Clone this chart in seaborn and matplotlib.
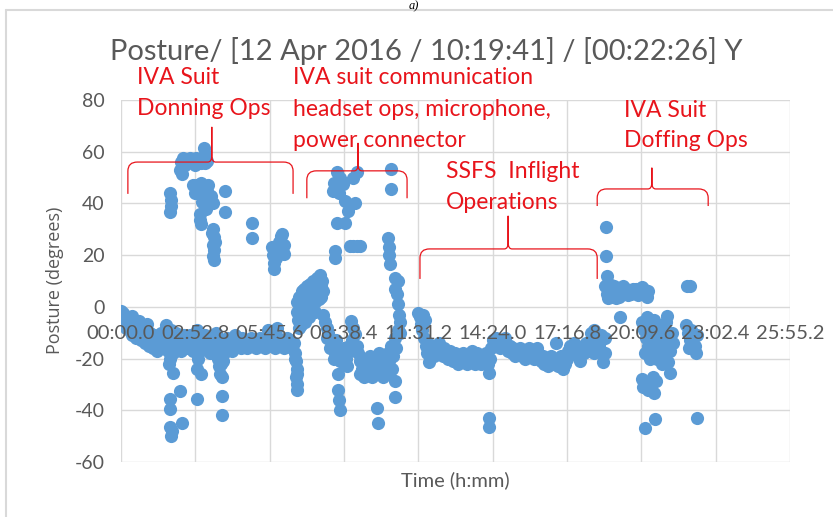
import numpy as np
import pandas as pd
import seaborn as sns
import matplotlib.pyplot as plt
from matplotlib.path import Path
from matplotlib.patches import PathPatch
from matplotlib.lines import Line2D
from matplotlib.ticker import FuncFormatter

# posture samples: (seconds since start, degrees)
pre_donning = [
    (0, -1.5), (3, -4), (5, -2.5), (8, -6), (10, -3.5), (12, -8), (15, -5), (18, -9), (20, -4.5), (23, -7),
    (26, -11), (26, -3.5), (29, -6), (32, -9), (35, -12), (38, -8), (41, -5.5), (44, -10), (47, -13), (50, -7),
    (53, -11), (56, -14), (59, -9), (60, -6.5), (62, -12), (65, -15), (68, -10), (71, -13), (74, -16), (77, -11),
    (80, -14), (83, -17), (86, -12), (89, -15), (92, -10), (95, -13), (98, -16), (101, -12), (104, -7), (107, -14),
    (110, -17), (113, -12), (116, -9), (119, -15), (122, -18), (125, -13), (128, -10), (131, -16), (134, -12),
    (137, -14), (140, -17), (143, -13), (146, -11), (149, -15),
    (112, -22), (114, -20), (121, -25.5), (114, -35.5), (114, -39.5), (137, -32.5), (114, -46.5), (116, -50),
    (118, -48), (142, -45),
    (152, -13), (156, -16), (160, -11), (164, -14), (168, -17), (172, -12), (176, -9), (178, -15), (180, -13),
    (184, -17), (188, -12), (192, -15), (196, -11), (200, -16), (204, -14), (208, -18), (212, -13), (216, -16),
    (220, -10), (224, -14), (228, -17),
    (177, -24), (186, -26), (177, -35.5), (180, -20),
    (225, -20), (228, -23), (230, -26), (232, -22), (235, -27), (228, -19), (238, -21), (235, -34.5), (235, -42),
    (240, -18),
    (242, -15), (246, -12), (250, -16), (254, -13), (258, -17), (262, -14), (266, -11), (270, -15), (274, -13),
    (278, -16), (282, -12), (286, -15), (290, -13), (294, -16), (298, -14), (302, -12), (306, -15), (310, -13),
    (314, -16), (318, -14), (322, -12), (326, -15), (330, -13), (334, -16), (338, -14), (342, -9), (346, -12),
    (350, -15), (354, -13), (358, -16), (362, -8), (366, -12), (370, -15), (374, -13), (378, -16), (382, -14),
    (386, -12), (390, -15), (394, -13), (398, -16), (402, -14),
    (404, -18), (406, -21), (408, -24), (406, -27), (409, -30), (410, -32), (405, -20), (408, -26),
]

donning_high = [
    (114, 44), (117, 41.5), (114, 36.5), (116, 39),
    (137, 53), (140, 56), (142, 51.5), (145, 57.5), (148, 55), (150, 57), (155, 56.5), (160, 57.5), (165, 56),
    (170, 57), (172, 55), (175, 57.5), (180, 56), (185, 55.5), (190, 57), (195, 55.5), (200, 56.5),
    (193, 61.5), (196, 59),
    (168, 47), (172, 44), (177, 47), (182, 44), (186, 48), (190, 46), (195, 42), (200, 45), (203, 47),
    (205, 41), (210, 43), (214, 40), (188, 40.5), (198, 38),
    (184, 36), (184, 33.5), (186, 32),
    (212, 28.5), (214, 30), (216, 27), (214, 24), (217, 22), (215, 19.5), (219, 25), (217, 18),
    (242, 45), (242, 36.5),
    (305, 32.5), (305, 26.5),
    (351, 23), (353, 20), (355, 17), (356, 14.5), (360, 19), (364, 22), (368, 25), (372, 27.5), (375, 28),
    (378, 24), (380, 20.5), (376, 21),
]

comms_low = [
    (408, -2), (410, 2), (412, -5), (413, -8), (414, 4), (416, 0), (418, -7), (420, 6), (422, 2), (424, -3),
    (426, 7), (427, -6), (428, 3), (430, -1), (432, 8), (434, 4), (436, 0), (438, -4), (440, 9), (442, 5),
    (444, 1), (446, 10), (448, 6), (450, 2), (452, -2), (455, 11), (458, 7), (460, 3), (462, 12.5), (464, 8),
    (466, 4), (468, 10), (470, 6),
    (470, -3), (474, -6), (478, -8), (478, -12), (482, -10), (486, -12), (486, -16), (490, -14), (494, -16),
    (494, -20), (498, -18), (500, -13), (502, -20), (506, -17), (510, -21), (514, -19), (518, -16), (518, -22),
    (522, -20), (526, -18), (526, -23), (530, -15),
    (504, -26), (504, -32), (507, -36), (510, -40),
    (535, -5.5), (540, -8), (545, -10.5), (538, -13), (548, -15),
    (552, -18), (556, -21), (556, -26), (560, -24), (564, -22), (564, -27), (568, -25), (572, -23), (572, -20),
    (576, -26), (580, -24), (580, -19), (584, -27), (588, -25), (588, -21), (592, -23), (596, -26), (600, -24),
    (600, -18), (604, -22), (608, -25), (610, -27), (612, -20), (616, -23), (620, -18), (620, -26), (624, -21),
    (628, -15), (630, -24), (632, -19), (636, -12), (636, -28.5), (637, -35), (640, -16), (644, -9),
    (595, -39), (597, -45),
    (644, 1), (644, 10), (646, -3), (648, -6), (649, -10), (642, 5),
]

comms_high = [
    (493, 45), (495, 48), (498, 21.5), (498, 19), (502, 52), (502, 32.5), (507, 44), (510, 50), (516, 47.5),
    (521, 41), (521, 32.5), (528, 37), (532, 23.5), (539, 50), (540, 23.5), (544, 40), (548, 23.5), (549, 52),
    (556, 23.5),
    (620, 26.5), (622, 23), (624, 20), (625, 16.5), (628, 53.5), (628, 45.5), (637, 11), (637, 7),
]

ssfs_ops = [
    (690, -2.5), (694, -4), (698, -6.5), (702, -3), (706, -5), (700, -9), (704, -12), (708, -15), (712, -18),
    (714, -14), (716, -21.5), (720, -17), (724, -15), (728, -19), (732, -16), (736, -18), (740, -14),
    (744, -17), (748, -19), (752, -16), (756, -18), (760, -20), (764, -17), (768, -19), (772, -21), (776, -18),
    (780, -20), (784, -22), (788, -19), (792, -21), (796, -18), (800, -20), (804, -22), (808, -19), (812, -21),
    (816, -17), (820, -20), (824, -22), (828, -18), (832, -20), (836, -22), (840, -19), (844, -21), (848, -18),
    (852, -22), (856, -25.5), (858, -20), (860, -16), (864, -13), (868, -15), (872, -12), (876, -14),
    (880, -16), (884, -13), (888, -15), (892, -12), (896, -14), (900, -17), (904, -15), (908, -18), (912, -16),
    (916, -19), (920, -17), (924, -18), (928, -16), (932, -19), (936, -17), (940, -20), (944, -18), (948, -16),
    (952, -19), (956, -17), (960, -20), (964, -18), (968, -16), (972, -19), (976, -21), (980, -19), (984, -22),
    (988, -20), (992, -23), (996, -21), (1000, -19), (1004, -22), (1008, -20), (1012, -14), (1016, -23),
    (1020, -21), (1024, -19), (1028, -24), (1032, -22), (1036, -20), (1040, -17), (1044, -15), (1048, -18),
    (1052, -14), (1056, -17), (1060, -15), (1064, -19), (1068, -21), (1072, -16), (1076, -18), (1080, -14),
    (1084, -17), (1088, -15), (1092, -13), (1096, -16), (1100, -18), (1104, -14), (1108, -17), (1112, -15),
    (1116, -13), (1120, -21.5), (1118, -18), (1092, -10), (1100, -9), (1108, -12), (1116, -11), (1124, -18),
    (1126, -12),
    (855, -43), (855, -46.5),
]

doffing = [
    (1128, 31), (1128, 19.5), (1130, 12),
    (1126, 8), (1130, 5), (1132, 3.5), (1134, 7), (1138, 4), (1138, 8.5), (1142, 6), (1146, 8), (1150, 5),
    (1150, 3.5), (1154, 7), (1158, 4), (1162, 6), (1166, 8), (1170, 5), (1174, 7), (1178, 4.5), (1182, 6.5),
    (1186, 5), (1190, 7), (1194, 5.5), (1198, 7), (1202, 4.5), (1206, 6), (1210, 7.5), (1214, 5), (1218, 6.5),
    (1222, 4), (1226, 6),
    (1316, 8), (1323, 8),
    (1160, -4),
    (1212, -6), (1216, -9), (1220, -12), (1224, -15), (1228, -8), (1232, -11), (1236, -14), (1240, -17),
    (1244, -10), (1248, -13), (1252, -16), (1256, -19), (1260, -12), (1264, -9), (1268, -6), (1270, -3.5),
    (1272, -13), (1276, -17), (1280, -10), (1283, -14), (1218, -18), (1230, -20), (1246, -20), (1258, -22),
    (1266, -15), (1250, -7), (1238, -5), (1222, -4),
    (1272, -21.5), (1276, -25.5),
    (1210, -28), (1214, -31), (1220, -29), (1226, -32), (1232, -30), (1240, -33.5), (1244, -28.5), (1236, -27),
    (1218, -47), (1242, -43.5),
    (1314, -7), (1318, -10), (1322, -13), (1326, -9), (1330, -12), (1334, -15), (1336, -18), (1338, -11),
    (1320, -16),
    (1339, -43),
]

df = pd.DataFrame(pre_donning + donning_high + comms_low + comms_high + ssfs_ops + doffing,
                  columns=["seconds", "posture"])

red = "#e8141b"
grey = "#595959"
grid_c = "#d9d9d9"


def brace(ax, t0, t1, tm, y_end, y_bar, y_tip):
    # curly bracket drawn the way the Excel shape looks
    dx, dy, sx, sy = 22, 3.5, 9, 2.5
    verts = [(t0, y_end), (t0, y_bar - dy), (t0, y_bar), (t0 + dx, y_bar),
             (tm - sx, y_bar), (tm, y_bar), (tm, y_bar + sy), (tm, y_tip),
             (tm, y_bar + sy), (tm, y_bar), (tm + sx, y_bar),
             (t1 - dx, y_bar), (t1, y_bar), (t1, y_bar - dy), (t1, y_end)]
    codes = [Path.MOVETO, Path.LINETO, Path.CURVE3, Path.CURVE3,
             Path.LINETO, Path.CURVE3, Path.CURVE3, Path.LINETO,
             Path.LINETO, Path.CURVE3, Path.CURVE3,
             Path.LINETO, Path.CURVE3, Path.CURVE3, Path.LINETO]
    ax.add_patch(PathPatch(Path(verts, codes), fill=False, edgecolor=red, lw=0.9, zorder=3))


sns.set_theme(style="white")
plt.rcParams['font.family'] = ['Lato', 'DejaVu Sans']
plt.rcParams['axes.unicode_minus'] = False

fig = plt.figure(figsize=(8.33, 5.17), dpi=100)
ax = fig.add_axes([121 / 833, 55 / 517, 669 / 833, 362 / 517])

sns.scatterplot(data=df, x="seconds", y="posture", color="#5B9BD5", s=90, linewidth=0,
                ax=ax, zorder=2, legend=False)

ax.set_xlim(0, 1555.2)
ax.set_ylim(-60, 80)
xticks = np.arange(0, 1555.3, 172.8)
ax.set_xticks(xticks)
ax.set_yticks(range(-60, 81, 20))
ax.xaxis.set_major_formatter(FuncFormatter(lambda v, p: f"{int(v // 60):02d}:{v % 60:04.1f}"))

ax.set_axisbelow(True)
ax.yaxis.grid(True, color=grid_c, lw=1)
ax.xaxis.grid(False)
for t in xticks:
    ax.axvline(t, color=grid_c, lw=1, zorder=0.5)
for s in ax.spines.values():
    s.set_visible(False)
ax.spines['bottom'].set_position(('data', 0))
ax.xaxis.set_zorder(3)

ax.tick_params(axis='x', length=0, pad=13, labelsize=14.5, labelcolor=grey)
ax.tick_params(axis='y', length=0, pad=12, labelsize=14, labelcolor=grey)

ax.set_xlabel("Time (h:mm)", fontsize=14.5, color=grey)
ax.xaxis.label.set_va('center')
ax.xaxis.set_label_coords(0.499, -0.05)
ax.set_ylabel("Posture (degrees)", fontsize=13, color=grey, family='Open Sans')
ax.yaxis.label.set_va('center')
ax.yaxis.set_label_coords(-0.099, 0.503)

fig.text(426.5 / 833, 1 - 60 / 517, "Posture/ [12 Apr 2016 / 10:19:41] / [00:22:26] Y",
         ha='center', va='baseline', fontsize=21, color=grey)

# phase notes and braces
notes = [("IVA Suit", 37, 86.3), ("Donning Ops", 37, 74.3),
         ("IVA suit communication", 400, 86.3), ("headset ops, microphone,", 400, 73.9),
         ("power connector", 400, 61.9),
         ("SSFS  Inflight", 756, 49.9), ("Operations", 756, 37.9),
         ("IVA Suit", 1169, 73.5), ("Doffing Ops", 1169, 61.9)]
for txt, t, d in notes:
    ax.text(t, d, txt, color=red, fontsize=16.5, ha='left', va='baseline', zorder=4)

brace(ax, 16, 400, 211, 43.7, 56, 69.6)
brace(ax, 432, 665, 551, 42, 52.6, 63.4)
brace(ax, 695, 1107, 900, 10.8, 22.4, 35.2)
brace(ax, 1107, 1365, 1234, 39, 45.6, 53.8)

# frame of the chart object and the panel letter above it
fig.add_artist(Line2D([6 / 833, 1], [1 - 10 / 517] * 2, transform=fig.transFigure, color=grid_c, lw=1.5))
fig.add_artist(Line2D([6 / 833] * 2, [0, 1 - 10 / 517], transform=fig.transFigure, color=grid_c, lw=1.5))
fig.text(0.497, 0.999, "a)", fontstyle='italic', family='Liberation Serif', fontsize=9,
         ha='center', va='top', color='black')

fig.savefig('out.png', dpi=100)
